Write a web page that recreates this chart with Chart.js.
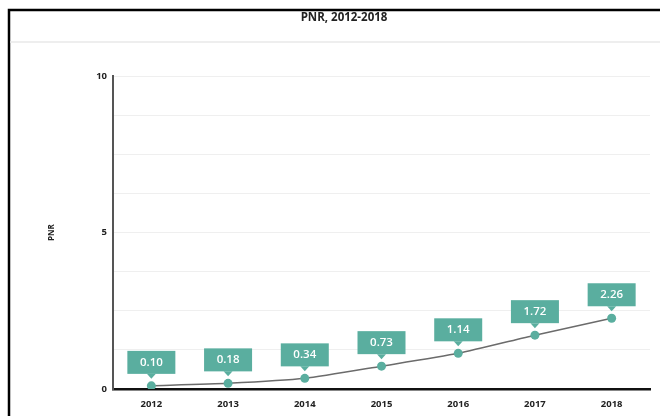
<!DOCTYPE html>
<html>
<head>
<meta charset="utf-8">
<script src="https://cdn.jsdelivr.net/npm/chart.js@4.4.1/dist/chart.umd.min.js"></script>
<style>
  html, body { margin: 0; padding: 0; background: #fff; }
  #wrap { width: 660px; height: 416px; position: relative; }
</style>
</head>
<body>
<div id="wrap"><canvas id="myChart" width="660" height="416"></canvas></div>
<script>
'use strict'

// DATA
const years = ['2012', '2013', '2014', '2015', '2016', '2017', '2018'];
const pnrValues = [0.10, 0.18, 0.34, 0.73, 1.14, 1.72, 2.26];
const yTickLabels = [0, 5, 10];
const chartTitle = 'PNR, 2012-2018';
const yAxisTitle = 'PNR';

const TEAL = '#5aae9f';

// frame, title and header line drawn behind the chart
const framePlugin = {
  id: 'frame',
  beforeDraw(chart) {
    let ctx = chart.ctx;
    ctx.save();
    ctx.fillStyle = '#fff';
    ctx.fillRect(0, 0, chart.width, chart.height);

    ctx.strokeStyle = '#000';
    ctx.lineWidth = 2.5;
    ctx.beginPath();
    ctx.moveTo(9, 430);
    ctx.lineTo(9, 10);
    ctx.lineTo(700, 10);
    ctx.stroke();

    ctx.strokeStyle = '#e8e8e8';
    ctx.lineWidth = 1.5;
    ctx.beginPath();
    ctx.moveTo(10, 42);
    ctx.lineTo(660, 42);
    ctx.stroke();

    ctx.fillStyle = '#222';
    ctx.font = 'bold 11.5px "Open Sans"';
    ctx.textAlign = 'center';
    ctx.textBaseline = 'middle';
    ctx.fillText(chartTitle, 344, 18);
    ctx.restore();
  }
};

// teal callout boxes above each point
const calloutPlugin = {
  id: 'callout',
  afterDatasetsDraw(chart) {
    let ctx = chart.ctx;
    let meta = chart.getDatasetMeta(0);
    ctx.save();
    for (let i = 0; i < meta.data.length; i++) {
      let pt = meta.data[i];
      let w = 48;
      let h = 23;
      let bottom = pt.y - 12;
      ctx.fillStyle = TEAL;
      ctx.fillRect(pt.x - w / 2, bottom - h, w, h);
      ctx.beginPath();
      ctx.moveTo(pt.x - 4.5, bottom);
      ctx.lineTo(pt.x + 4.5, bottom);
      ctx.lineTo(pt.x, bottom + 5);
      ctx.closePath();
      ctx.fill();

      ctx.fillStyle = '#fff';
      ctx.font = '600 11.5px "Open Sans"';
      ctx.textAlign = 'center';
      ctx.textBaseline = 'middle';
      ctx.fillText(pnrValues[i].toFixed(2), pt.x, bottom - h / 2);
    }
    ctx.restore();
  }
};

const data = {
  labels: years,
  datasets: [{
    label: yAxisTitle,
    data: pnrValues,
    borderColor: '#6b6b6b',
    borderWidth: 1.5,
    tension: 0.2,
    pointRadius: 4.5,
    pointBackgroundColor: TEAL,
    pointBorderColor: TEAL,
    pointBorderWidth: 0
  }]
};

const config = {
  type: 'line',
  data: data,
  plugins: [framePlugin, calloutPlugin],
  options: {
    responsive: false,
    animation: false,
    layout: {
      padding: { left: 40, right: 10, top: 76, bottom: 0 }
    },
    plugins: {
      legend: { display: false },
      tooltip: { enabled: false }
    },
    scales: {
      x: {
        offset: true,
        grid: { display: false, drawTicks: false },
        border: { color: '#111', width: 2.5 },
        ticks: {
          color: '#222',
          padding: 10,
          font: { family: 'Open Sans', weight: 'bold', size: 9.5 }
        },
        afterFit: (scale) => { scale.height = 27; }
      },
      y: {
        min: 0,
        max: 10,
        grid: { color: '#efefef', lineWidth: 1, drawTicks: false },
        border: { color: '#555', width: 2 },
        ticks: {
          stepSize: 1.25,
          padding: 6,
          color: '#222',
          font: { family: 'Open Sans', weight: 'bold', size: 9.5 },
          callback: (v) => yTickLabels.includes(v) ? String(v) : ''
        },
        title: {
          display: true,
          text: yAxisTitle,
          color: '#222',
          padding: { top: 7, bottom: 0 },
          font: { family: 'Open Sans', weight: 'bold', size: 8 }
        },
        afterFit: (scale) => { scale.width = 73; }
      }
    }
  }
};

let canvasChart = document.getElementById('myChart');
const myChart = new Chart(canvasChart, config);
</script>
</body>
</html>
